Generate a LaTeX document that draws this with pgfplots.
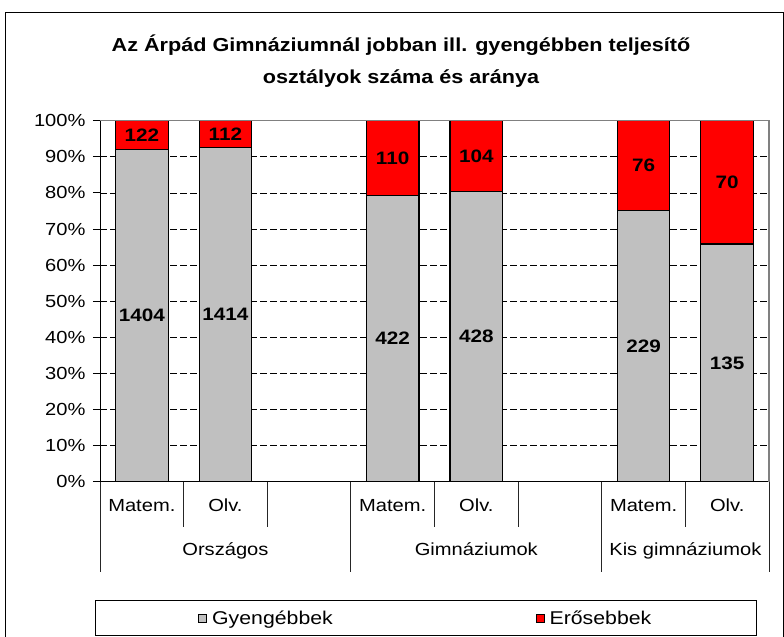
\documentclass[border=0pt]{standalone}
\usepackage{pgfplots}
\pgfplotsset{compat=1.18}
\usepackage{pgfplotstable}
\usepackage{fontspec}
\setmainfont{Liberation Sans}[FakeStretch=1.15]
\definecolor{barg}{RGB}{192,192,192}
\definecolor{barr}{RGB}{255,0,0}

\pgfplotstableread{
x   pg     tot  labg  labr
0   92.005 100  1404  122
1   92.661 100  1414  112
3   79.323 100  422   110
4   80.451 100  428   104
6   75.082 100  229   76
7   65.854 100  135   70
}\datatable

\begin{document}
\begin{tikzpicture}
\useasboundingbox (0,0) rectangle (784bp,-637bp);
\draw[black, line width=1bp] (5bp,-645bp) -- (5bp,-12bp) -- (783bp,-12bp) -- (783bp,-645bp);
\node[align=center, font=\fontsize{18.8bp}{32bp}\selectfont\bfseries] at (401bp,-61bp)
  {Az Árpád Gimnáziumnál jobban ill. gyengébben teljesítő\\osztályok száma és aránya};
\begin{axis}[
  at={(100bp,-481.7bp)}, anchor=south west, scale only axis,
  width=669bp, height=361bp,
  xmin=-0.5, xmax=7.5, ymin=0, ymax=100,
  clip=false,
  axis lines*=left,
  axis line style={black, line width=0.9bp},
  ytick={0,10,...,100},
  yticklabel={\pgfmathprintnumber{\tick}\%},
  /pgf/number format/assume math mode=true,
  ymajorgrids,
  major grid style={black, dash pattern=on 6.5bp off 3.5bp, line width=0.7bp},
  tick align=outside,
  major tick length=7bp,
  ytick style={black, line width=0.9bp},
  xtick={0,...,7},
  xticklabels={Matem.,Olv.,,Matem.,Olv.,,Matem.,Olv.},
  xtick style={draw=none},
  xticklabel style={anchor=base, yshift=-23bp},
  tick label style={font=\fontsize{17.5bp}{20bp}\selectfont},
  yticklabel style={xshift=-4bp},
  legend columns=2,
  legend style={at={(rel axis cs:-0.0075,-0.3277)}, anchor=north west,
    draw=black, line width=0.8bp, inner xsep=103bp, inner ysep=8bp,
    font=\fontsize{18.5bp}{20bp}\selectfont,
    /tikz/every even column/.append style={column sep=201bp}},
  legend image code/.code={\draw[#1, line width=0.8bp] (0bp,-4bp) rectangle (8bp,4bp); \path (11bp,0bp);},
]
\addplot[ybar, bar width=52.6bp, bar shift=0pt, fill=barr, draw=black, line width=1.1bp, forget plot]
  table[x=x, y=tot] {\datatable};
\addplot[ybar, bar width=52.6bp, bar shift=0pt, fill=barg, draw=black, line width=1.1bp, forget plot]
  table[x=x, y=pg] {\datatable};
\addplot[draw=none, forget plot, nodes near coords, point meta=explicit symbolic,
  every node near coord/.append style={anchor=center, font=\fontsize{18bp}{20bp}\selectfont\bfseries}]
  table[x=x, y expr=\thisrow{pg}/2, meta=labg] {\datatable};
\addplot[draw=none, forget plot, nodes near coords, point meta=explicit symbolic,
  every node near coord/.append style={anchor=center, font=\fontsize{18bp}{20bp}\selectfont\bfseries}]
  table[x=x, y expr=(\thisrow{pg}+100)/2, meta=labr] {\datatable};
\draw[gray, line width=1.2bp] (rel axis cs:0,1) -- (rel axis cs:1,1) -- (rel axis cs:1,0);
\pgfplotsinvokeforeach{0.5,1.5,3.5,4.5,6.5}{
  \draw[black!85, line width=0.8bp] (axis cs:#1,0) -- ([yshift=-45bp]axis cs:#1,0);
}
\pgfplotsinvokeforeach{-0.5,2.5,5.5,7.5}{
  \draw[black!85, line width=0.8bp] (axis cs:#1,0) -- ([yshift=-90bp]axis cs:#1,0);
}
\node[anchor=base, font=\fontsize{17.5bp}{20bp}\selectfont] at ([yshift=-74bp]axis cs:1,0) {Országos};
\node[anchor=base, font=\fontsize{17.5bp}{20bp}\selectfont] at ([yshift=-74bp]axis cs:4,0) {Gimnáziumok};
\node[anchor=base, font=\fontsize{17.5bp}{20bp}\selectfont] at ([yshift=-74bp]axis cs:6.5,0) {Kis gimnáziumok};
\addlegendimage{fill=barg, draw=black}
\addlegendentry{Gyengébbek}
\addlegendimage{fill=barr, draw=black}
\addlegendentry{Erősebbek}
\end{axis}
\end{tikzpicture}
\end{document}
